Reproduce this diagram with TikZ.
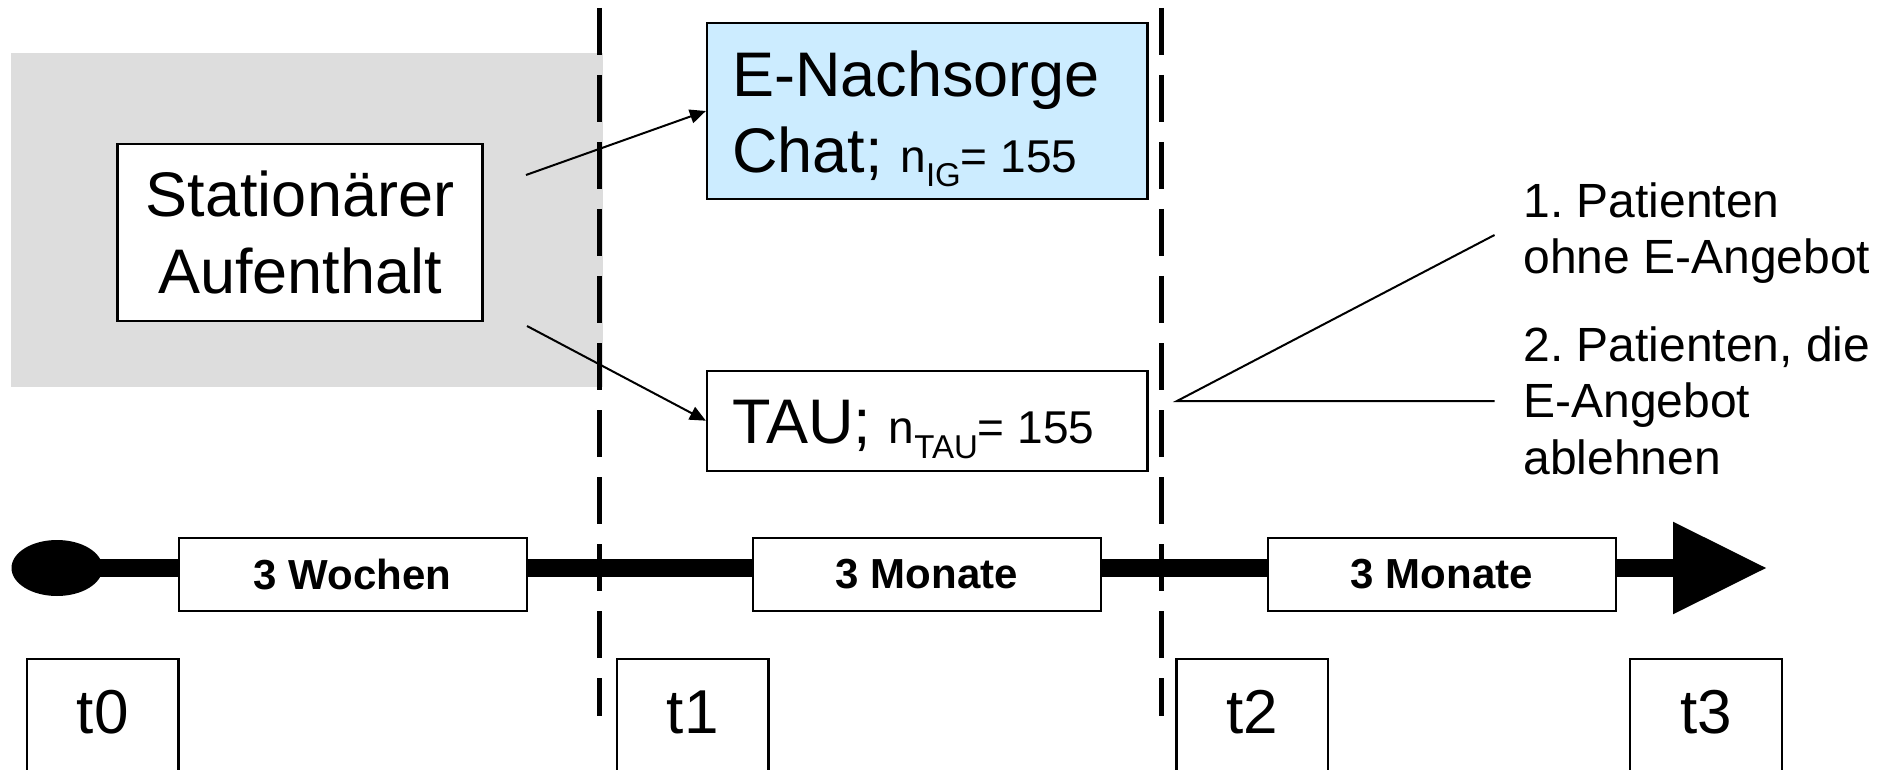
\documentclass[tikz,border=0pt]{standalone}
\usepackage{fontspec}
\setmainfont{Liberation Sans}
\usetikzlibrary{shapes.geometric,arrows.meta}
\definecolor{bggray}{HTML}{DDDDDD}
\definecolor{chatblue}{HTML}{CCECFF}
\frenchspacing
\begin{document}
\begin{tikzpicture}[x=0.5pt,y=-0.5pt,
  box/.style={draw, line width=1.2pt, inner sep=0pt},
  bigtext/.style={font=\fontsize{31.5}{38.3}\selectfont, inner sep=0pt},
  sidetext/.style={font=\fontsize{24}{28}\selectfont, inner sep=0pt, anchor=base west},
  spanbox/.style={box, fill=white, minimum width=174pt, minimum height=36.7pt, font=\bfseries\fontsize{21}{25}\selectfont},
  tbox/.style={box, minimum width=75.8pt, minimum height=76pt, anchor=north},
  tlabel/.style={font=\fontsize{31}{37}\selectfont, inner sep=0pt, anchor=base},
  thinline/.style={line width=1pt},
  divider/.style={line width=2.5pt, dash pattern=on 23.5pt off 10pt},
  arr/.style={thinline, -{Triangle[length=8pt,width=7pt]}}]
\clip (0,0) rectangle (1890,770);
\fill[white] (0,0) rectangle (1890,770);
% grey background of the stationary phase
\fill[bggray] (11,52.7) rectangle (602.7,386.7);
% dividers
\coordinate (d1t) at (599.5,8);
\coordinate (d1b) at (599.5,716);
\coordinate (d2t) at (1161,8);
\coordinate (d2b) at (1161,716);
\draw[divider] (d1t) -- (d1b);
\draw[divider] (d2t) -- (d2b);
% boxes
\node[box, fill=white, minimum width=182.5pt, minimum height=88.5pt, align=center, bigtext] (stat) at (300,232.4) {Stationärer\\Aufenthalt};
\node[box, fill=chatblue, minimum width=220.25pt, minimum height=88pt] (enach) at (927.3,111) {};
\node[bigtext, anchor=base west] (enachA) at (732,96.7) {E-Nachsorge};
\node[bigtext, anchor=base west] (enachB) at (732,173) {Chat; \fontsize{23}{27}\selectfont n\raisebox{-6.8pt}{\fontsize{16.5}{18}\selectfont IG}= 155};
\node[box, fill=white, minimum width=220.25pt, minimum height=50pt] (tau) at (927.3,420.7) {};
\node[bigtext, anchor=base west] (tauA) at (732,443) {TAU; \fontsize{23}{27}\selectfont n\raisebox{-7.6pt}{\fontsize{16.5}{18}\selectfont TAU}= 155};
% arrows
\coordinate (a1s) at (526,175);
\coordinate (a2s) at (527,326);
\draw[arr] (a1s) -- (enach.west);
\draw[arr] (a2s) -- (tau.west);
% right side annotation
\coordinate (rs) at (1177,401);
\coordinate (r1) at (1494.5,235);
\coordinate (r2) at (1494.5,401);
\draw[thinline] (r1) -- (rs) -- (r2);
\node[sidetext] (p1a) at (1523,217.5) {1. Patienten};
\node[sidetext] (p1b) at (1523,274) {ohne E-Angebot};
\node[sidetext] (p2a) at (1523,361) {2. Patienten, die};
\node[sidetext] (p2b) at (1523,417.5) {E-Angebot};
\node[sidetext] (p2c) at (1523,474) {ablehnen};
% timeline
\node[ellipse, fill=black, minimum width=45.5pt, minimum height=28pt, inner sep=0pt] (tstart) at (57,568) {};
\coordinate (abase) at (1673,568);
\coordinate (atip) at (1766,568);
\coordinate (aup) at (1673,521.7);
\coordinate (adown) at (1673,614.3);
\draw[line width=9.3pt] (tstart.center) -- (abase);
\fill (aup) -- (atip) -- (adown) -- cycle;
\node[spanbox] (w1) at (352.7,574.4) {3 Wochen};
\node[spanbox] (m1) at (927,574.4) {3 Monate};
\node[spanbox] (m2) at (1441.8,574.4) {3 Monate};
% time points
\node[tbox] (t0) at (102.8,658) {};
\node[tbox] (t1) at (692.8,658) {};
\node[tbox] (t2) at (1252.2,658) {};
\node[tbox] (t3) at (1706,658) {};
\node[tlabel] (t0l) at (102.8,733) {t0};
\node[tlabel] (t1l) at (692.8,733) {t1};
\node[tlabel] (t2l) at (1252.2,733) {t2};
\node[tlabel] (t3l) at (1706,733) {t3};
\end{tikzpicture}
\end{document}
